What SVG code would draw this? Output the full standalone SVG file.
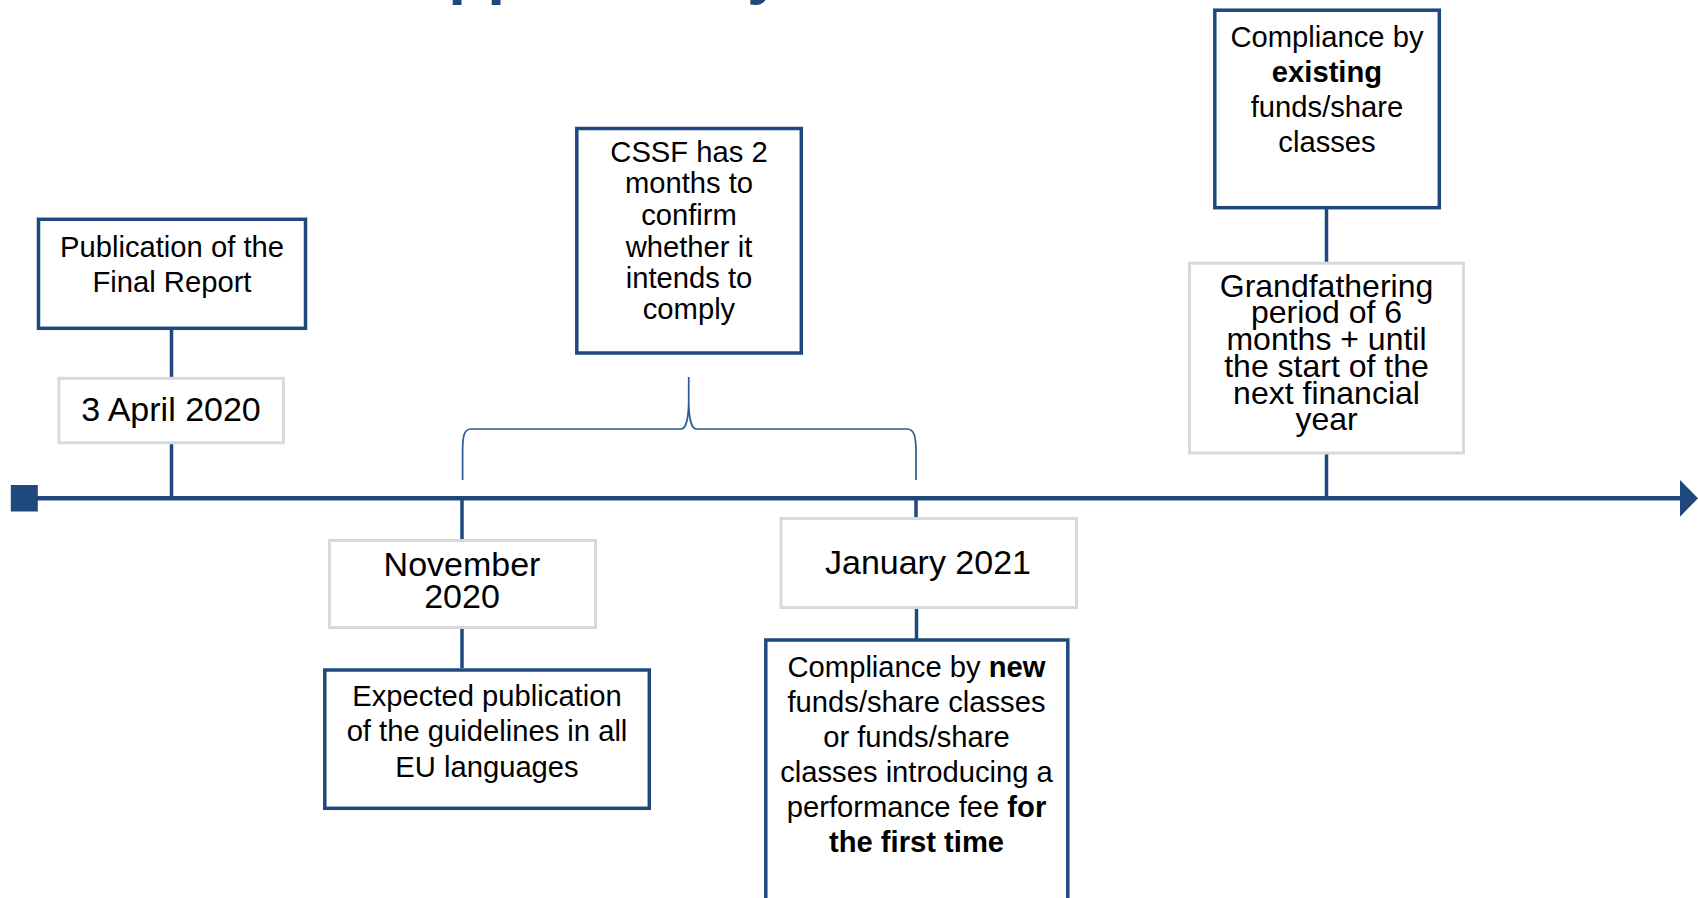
<svg xmlns="http://www.w3.org/2000/svg" width="1698" height="898" viewBox="0 0 1698 898">
<style>
.blue{fill:#fff;stroke:#1F497D;stroke-width:3.5}
.gray{fill:#fff;stroke:#D9D9D9;stroke-width:3}
.t{font-family:"Liberation Sans",Arial,sans-serif;font-size:29.2px;fill:#000;text-anchor:middle}
.d{font-family:"Liberation Sans",Arial,sans-serif;font-size:34px;fill:#000;text-anchor:middle}
.g{font-family:"Liberation Sans",Arial,sans-serif;font-size:32px;fill:#000;text-anchor:middle}
.b{font-weight:bold}
.ln{stroke:#1F497D;stroke-width:3.5;fill:none}
</style>
<rect width="1698" height="898" fill="#fff"/>
<text x="402" y="-8" font-family="Liberation Sans,Arial,sans-serif" font-size="64" font-weight="bold" fill="#1F497D">Applicability</text>
<g id="connectors">
<line class="ln" x1="37" y1="498.3" x2="1684" y2="498.3" style="stroke-width:4.5"/>
<rect x="10.8" y="485" width="27" height="26.5" fill="#1F497D"/>
<polygon points="1680,480 1698,498.3 1680,516.7" fill="#1F497D"/>
<line class="ln" x1="171.5" y1="330" x2="171.5" y2="377"/>
<line class="ln" x1="171.5" y1="444" x2="171.5" y2="498"/>
<line class="ln" x1="462" y1="498" x2="462" y2="539"/>
<line class="ln" x1="462" y1="629" x2="462" y2="668"/>
<line class="ln" x1="916" y1="498" x2="916" y2="517"/>
<line class="ln" x1="916.5" y1="609" x2="916.5" y2="639"/>
<line class="ln" x1="1326.5" y1="209" x2="1326.5" y2="262"/>
<line class="ln" x1="1326.5" y1="454" x2="1326.5" y2="498"/>
<path d="M462.6 480 L462.6 452 C462.6 436 464 429 471 429 L681 429 C685.5 429 688.7 420 688.7 400 L688.7 377 M688.7 400 C688.7 420 692 429 696.4 429 L907 429 C914 429 916 436 916 452 L916 480" fill="none" stroke="#2E5A90" stroke-width="1.7"/>
</g>
<g id="n-publication">
<rect class="blue" x="38.5" y="219.3" width="267" height="109"/>
<text class="t" x="172" y="256.7">Publication of the</text>
<text class="t" x="172" y="291.7">Final Report</text>
</g>
<g id="n-april">
<rect class="gray" x="58.9" y="378.3" width="224.5" height="64.5"/>
<text class="d" x="171" y="421">3 April 2020</text>
</g>
<g id="n-cssf">
<rect class="blue" x="576.8" y="128.5" width="224.5" height="224.5"/>
<text class="t" x="689" y="161.7">CSSF has 2</text>
<text class="t" x="689" y="193.3">months to</text>
<text class="t" x="689" y="225">confirm</text>
<text class="t" x="689" y="256.7">whether it</text>
<text class="t" x="689" y="288.3">intends to</text>
<text class="t" x="689" y="319.3">comply</text>
</g>
<g id="n-november">
<rect class="gray" x="329.5" y="540.5" width="266" height="87"/>
<text class="d" x="462" y="576">November</text>
<text class="d" x="462" y="608.3">2020</text>
</g>
<g id="n-expected">
<rect class="blue" x="324.8" y="670" width="324.5" height="138.3"/>
<text class="t" x="487" y="706">Expected publication</text>
<text class="t" x="487" y="740.7">of the guidelines in all</text>
<text class="t" x="487" y="776.7">EU languages</text>
</g>
<g id="n-january">
<rect class="gray" x="781" y="518.5" width="295.5" height="89"/>
<text class="d" x="928" y="573.5">January 2021</text>
</g>
<g id="n-compliance-new">
<rect class="blue" x="765.8" y="640" width="302" height="290"/>
<text class="t" x="916.5" y="676.7">Compliance by <tspan class="b">new</tspan></text>
<text class="t" x="916.5" y="711.7">funds/share classes</text>
<text class="t" x="916.5" y="746.7">or funds/share</text>
<text class="t" x="916.5" y="781.7">classes introducing a</text>
<text class="t" x="916.5" y="816.7">performance fee <tspan class="b">for</tspan></text>
<text class="t b" x="916.5" y="851.7">the first time</text>
</g>
<g id="n-compliance-existing">
<rect class="blue" x="1214.8" y="10.2" width="224.5" height="197.5"/>
<text class="t" x="1327" y="46.7">Compliance by</text>
<text class="t b" x="1327" y="81.7">existing</text>
<text class="t" x="1327" y="116.7">funds/share</text>
<text class="t" x="1327" y="151.7">classes</text>
</g>
<g id="n-grandfathering">
<rect class="gray" x="1189.5" y="263.2" width="274" height="189.8"/>
<text class="g" x="1326.5" y="296.7">Grandfathering</text>
<text class="g" x="1326.5" y="323.3">period of 6</text>
<text class="g" x="1326.5" y="350">months + until</text>
<text class="g" x="1326.5" y="376.7">the start of the</text>
<text class="g" x="1326.5" y="404">next financial</text>
<text class="g" x="1326.5" y="430">year</text>
</g>
</svg>
